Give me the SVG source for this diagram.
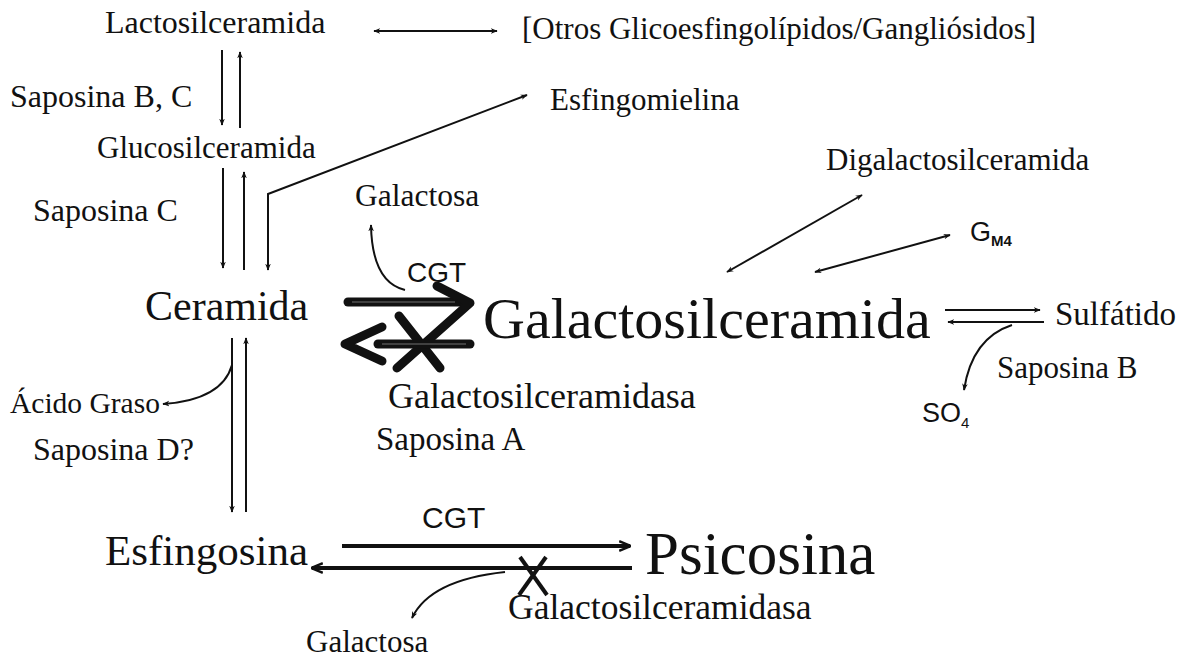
<svg xmlns="http://www.w3.org/2000/svg" width="1193" height="661" viewBox="0 0 1193 661">
<style>
.t{font-family:"Liberation Serif","Times New Roman",serif;fill:#111}
.s{font-family:"Liberation Sans",Arial,sans-serif;fill:#111}
.ln{stroke:#111;stroke-width:2;fill:none}
.bold{stroke:#111;stroke-width:9;fill:none;stroke-linecap:round;stroke-linejoin:round}
.gap{stroke:#888;stroke-width:0.8;fill:none}
.med{stroke:#111;stroke-width:4;fill:none}
</style>
<defs>
<marker id="ah" viewBox="0 0 10 10" refX="9" refY="5" markerWidth="7" markerHeight="7" orient="auto-start-reverse" markerUnits="userSpaceOnUse">
<path d="M0,1 L10,5 L0,9 L3,5 Z" fill="#111"/>
</marker>
<marker id="ah2" viewBox="0 0 10 10" refX="9" refY="5" markerWidth="12" markerHeight="12" orient="auto-start-reverse" markerUnits="userSpaceOnUse">
<path d="M0,1 L10,5 L0,9" fill="none" stroke="#111" stroke-width="2"/>
</marker>
</defs>
<rect width="1193" height="661" fill="#fff"/>

<g id="lactosilceramida"><text class="t" x="105" y="33" font-size="32">Lactosilceramida</text></g>
<g id="otros"><text class="t" x="522" y="39" font-size="31">[Otros Glicoesfingolípidos/Gangliósidos]</text></g>
<g id="saposinaBC"><text class="t" x="10" y="107" font-size="32">Saposina B, C</text></g>
<g id="esfingomielina"><text class="t" x="550" y="110" font-size="31">Esfingomielina</text></g>
<g id="glucosilceramida"><text class="t" x="97" y="158" font-size="31">Glucosilceramida</text></g>
<g id="saposinaC"><text class="t" x="33" y="221" font-size="32">Saposina C</text></g>
<g id="galactosa1"><text class="t" x="355" y="206" font-size="31.5">Galactosa</text></g>
<g id="digalactosilceramida"><text class="t" x="826" y="170" font-size="31">Digalactosilceramida</text></g>
<g id="gm4"><text class="s" x="970" y="241" font-size="27">G<tspan font-size="15" font-weight="bold" dy="5">M4</tspan></text></g>
<g id="cgt1"><text class="s" x="407" y="282" font-size="28">CGT</text></g>
<g id="ceramida"><text class="t" x="145" y="320" font-size="42">Ceramida</text></g>
<g id="galactosilceramida"><text class="t" x="483" y="338" font-size="58">Galactosilceramida</text></g>
<g id="sulfatido"><text class="t" x="1055" y="325" font-size="33">Sulfátido</text></g>
<g id="saposinaB"><text class="t" x="997" y="378" font-size="31">Saposina B</text></g>
<g id="so4"><text class="s" x="922" y="422" font-size="27">SO<tspan font-size="15" dy="6">4</tspan></text></g>
<g id="acidograso"><text class="t" x="10" y="413" font-size="29.5">Ácido Graso</text></g>
<g id="galactosilceramidasa1"><text class="t" x="388" y="408" font-size="36">Galactosilceramidasa</text></g>
<g id="saposinaA"><text class="t" x="376" y="450" font-size="33">Saposina A</text></g>
<g id="saposinaD"><text class="t" x="33" y="460" font-size="32">Saposina D?</text></g>
<g id="cgt2"><text class="s" x="422" y="528" font-size="30">CGT</text></g>
<g id="esfingosina"><text class="t" x="105" y="565" font-size="43">Esfingosina</text></g>
<g id="psicosina"><text class="t" x="645" y="574" font-size="61">Psicosina</text></g>
<g id="galactosilceramidasa2"><text class="t" x="508" y="619" font-size="35.5">Galactosilceramidasa</text></g>
<g id="galactosa2"><text class="t" x="306" y="652" font-size="31">Galactosa</text></g>

<g id="connectors">
<line class="ln" x1="374" y1="31" x2="497" y2="31" marker-start="url(#ah)" marker-end="url(#ah)"/>
<line class="ln" x1="222" y1="50" x2="222" y2="125" marker-end="url(#ah)"/>
<line class="ln" x1="240" y1="128" x2="240" y2="52" marker-end="url(#ah)"/>
<line class="ln" x1="223" y1="168" x2="223" y2="268" marker-end="url(#ah)"/>
<line class="ln" x1="244" y1="270" x2="244" y2="172" marker-end="url(#ah)"/>
<path class="ln" d="M527,95 L268,194 L268,270" marker-start="url(#ah)" marker-end="url(#ah)"/>
<path class="ln" d="M405,290 Q372,282 371,225" marker-end="url(#ah)"/>
<line class="bold" x1="348" y1="302" x2="466" y2="302"/>
<line class="gap" x1="352" y1="302" x2="455" y2="302"/>
<path class="bold" d="M437,286 L470,303 L397,368"/>
<line class="bold" x1="399" y1="316" x2="440" y2="368"/>
<line class="bold" x1="378" y1="344" x2="470" y2="344"/>
<line class="gap" x1="382" y1="344" x2="466" y2="344"/>
<path class="bold" d="M382,327 L345,344 L382,361"/>
<line class="ln" x1="727" y1="272" x2="862" y2="195" marker-start="url(#ah)" marker-end="url(#ah)"/>
<line class="ln" x1="815" y1="272" x2="950" y2="235" marker-start="url(#ah)" marker-end="url(#ah)"/>
<line class="ln" x1="945" y1="310" x2="1040" y2="310" marker-end="url(#ah)"/>
<line class="ln" x1="1044" y1="322" x2="948" y2="322" marker-end="url(#ah)"/>
<path class="ln" d="M1012,325 Q972,338 964,390" marker-end="url(#ah)"/>
<line class="ln" x1="232" y1="338" x2="232" y2="512" marker-end="url(#ah)"/>
<line class="ln" x1="246" y1="512" x2="246" y2="338" marker-end="url(#ah)"/>
<path class="ln" d="M232,365 Q222,400 163,404" marker-end="url(#ah)"/>
<line class="med" x1="342" y1="546" x2="630" y2="546" marker-end="url(#ah2)"/>
<line class="med" x1="632" y1="568" x2="312" y2="568" marker-end="url(#ah2)"/>
<line class="med" x1="520" y1="557" x2="547" y2="595"/>
<line class="med" x1="546" y1="557" x2="519" y2="595"/>
<path class="ln" d="M505,572 Q430,580 412,618" marker-end="url(#ah)"/>
</g>
</svg>
